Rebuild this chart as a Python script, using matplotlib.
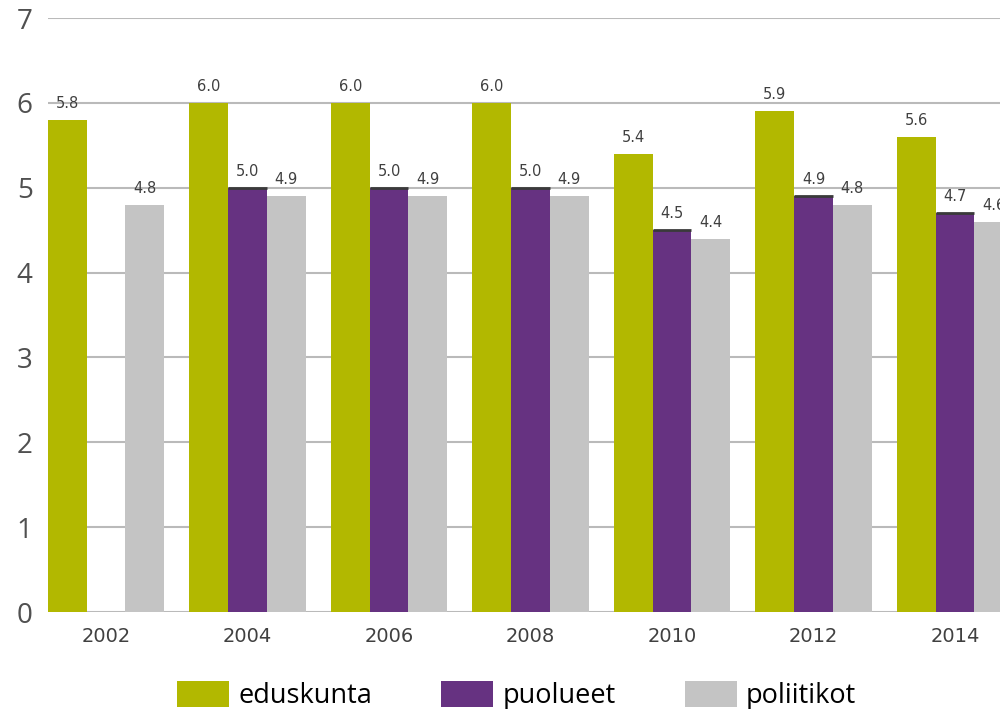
import numpy as np
import matplotlib
matplotlib.use("Agg")
import matplotlib.pyplot as plt

years = ["2002", "2004", "2006", "2008", "2010", "2012", "2014"]
eduskunta = [5.8, 6.0, 6.0, 6.0, 5.4, 5.9, 5.6]
puolueet = [np.nan, 5.0, 5.0, 5.0, 4.5, 4.9, 4.7]
poliitikot = [4.8, 4.9, 4.9, 4.9, 4.4, 4.8, 4.6]
series_names = ["eduskunta", "puolueet", "poliitikot"]
colors = ["#B2B800", "#663281", "#C4C4C4"]
yticks = [0, 1, 2, 3, 4, 5, 6, 7]

fig = plt.figure(figsize=(10, 7.09), dpi=100)
ax = fig.add_axes([0.048, 0.1368, 0.965, 0.8378])

x = np.arange(len(years))
w = 0.2735
series = [eduskunta, puolueet, poliitikot]
handles = []
for i, (vals, name, c) in enumerate(zip(series, series_names, colors)):
    pos = x + (i - 1) * w
    bars = ax.bar(pos, vals, width=w, color=c, label=name, zorder=3, linewidth=0)
    handles.append(bars)
    for p, v in zip(pos, vals):
        if np.isnan(v):
            continue
        ax.annotate(f"{v:.1f}", (p, v), xytext=(0, 6.5), textcoords="offset points",
                    ha="center", va="bottom", fontsize=10.5, color="#404040",
                    family="DejaVu Sans", zorder=5)
    if name == "puolueet":
        for p, v in zip(pos, vals):
            if not np.isnan(v):
                ax.hlines(v, p - w / 2, p + w / 2, color="#3a3a3a", lw=2, zorder=4)

ax.set_xlim(-1.5 * w, len(years) - 1 + 1.5 * w)
ax.set_ylim(0, 7)
ax.set_yticks(yticks)
ax.set_yticklabels([str(t) for t in yticks], fontsize=20, color="#505050", family="Open Sans")
ax.set_xticks(x)
ax.set_xticklabels(years, fontsize=14, color="#404040", family="DejaVu Sans")
ax.tick_params(axis="y", length=0, pad=11)
ax.tick_params(axis="x", length=0, pad=11)
for s in ax.spines.values():
    s.set_visible(False)
ax.yaxis.grid(True, color="#BABABA", lw=1.5, zorder=0)
ax.set_axisbelow(True)

fig.legend(handles=handles, labels=series_names, loc="lower left",
           bbox_to_anchor=(0.153, -0.036), ncol=3, frameon=False,
           prop={"family": "Open Sans", "size": 19.5},
           handlelength=1.92, handleheight=1.15, handletextpad=0.33, columnspacing=2.55)

fig.savefig("out.png", dpi=100)
